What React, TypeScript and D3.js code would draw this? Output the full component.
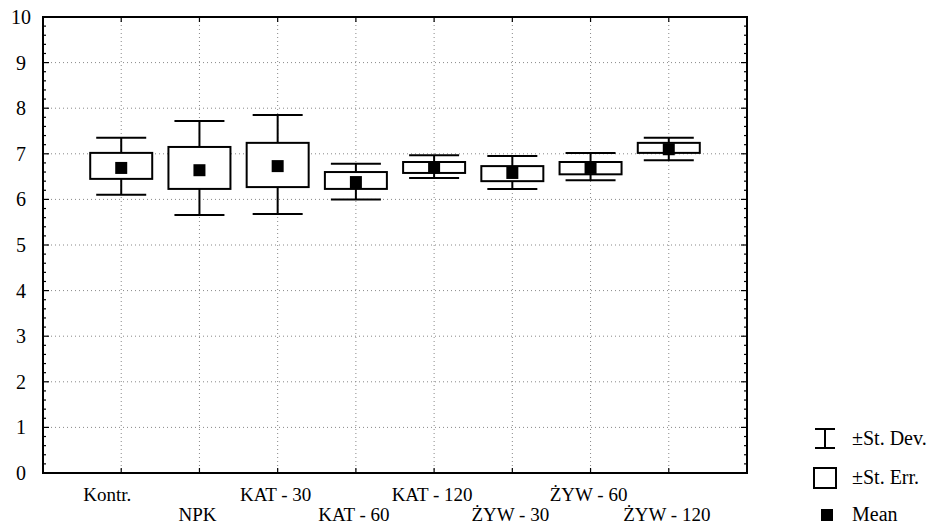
import React, { useEffect, useRef } from 'react'
import { select, scaleLinear, range } from 'd3'

const categories = ['Kontr.', 'NPK', 'KAT - 30', 'KAT - 60', 'KAT - 120', 'ŻYW - 30', 'ŻYW - 60', 'ŻYW - 120']
const means = [6.69, 6.64, 6.73, 6.38, 6.7, 6.58, 6.69, 7.1]
const seLow = [6.45, 6.23, 6.27, 6.23, 6.58, 6.4, 6.55, 7.02]
const seHigh = [7.02, 7.15, 7.24, 6.6, 6.82, 6.73, 6.82, 7.24]
const sdLow = [6.1, 5.66, 5.68, 6.0, 6.47, 6.23, 6.42, 6.86]
const sdHigh = [7.35, 7.72, 7.85, 6.78, 6.97, 6.95, 7.02, 7.35]
const yTicks = [0, 1, 2, 3, 4, 5, 6, 7, 8, 9, 10]

const W = 940
const H = 527
const FONT = '"Liberation Serif", "Times New Roman", serif'

export default function App() {
  const svgRef = useRef(null)

  useEffect(() => {
    const svg = select(svgRef.current)
    svg.selectAll('*').remove()

    const left = 43, right = 747, top = 17, bottom = 473
    const x = scaleLinear().domain([0, categories.length + 1]).range([left, right])
    const y = scaleLinear().domain([0, 10]).range([bottom, top])

    const rows = categories.map((c, i) => ({
      c, i, mean: means[i], seLow: seLow[i], seHigh: seHigh[i], sdLow: sdLow[i], sdHigh: sdHigh[i]
    }))

    // dotted grid
    const grid = svg.append('g')
      .attr('stroke', '#888')
      .attr('stroke-width', 1)
      .attr('stroke-dasharray', '1,3')
    grid.selectAll('line.h')
      .data(yTicks.slice(1, -1))
      .join('line')
      .attr('x1', left).attr('x2', right)
      .attr('y1', d => y(d)).attr('y2', d => y(d))
    grid.selectAll('line.v')
      .data(rows)
      .join('line')
      .attr('x1', d => x(d.i + 1)).attr('x2', d => x(d.i + 1))
      .attr('y1', top).attr('y2', bottom)

    // ticks
    const minor = range(0, 10.001, 0.2)
    const ticks = svg.append('g').attr('stroke', '#000').attr('stroke-width', 1.2)
    ticks.selectAll('line.l')
      .data(minor)
      .join('line')
      .attr('x1', left).attr('x2', (d, i) => left + (i % 5 === 0 ? 6 : 3))
      .attr('y1', d => y(d)).attr('y2', d => y(d))
    ticks.selectAll('line.r')
      .data(minor)
      .join('line')
      .attr('x1', right).attr('x2', (d, i) => right - (i % 5 === 0 ? 6 : 3))
      .attr('y1', d => y(d)).attr('y2', d => y(d))
    ticks.selectAll('line.b')
      .data(rows)
      .join('line')
      .attr('x1', d => x(d.i + 1)).attr('x2', d => x(d.i + 1))
      .attr('y1', bottom).attr('y2', bottom - 5)
    ticks.selectAll('line.t')
      .data(rows)
      .join('line')
      .attr('x1', d => x(d.i + 1)).attr('x2', d => x(d.i + 1))
      .attr('y1', top).attr('y2', top + 5)

    // frame
    svg.append('rect')
      .attr('x', left).attr('y', top)
      .attr('width', right - left).attr('height', bottom - top)
      .attr('fill', 'none').attr('stroke', '#000').attr('stroke-width', 2)

    // y labels
    svg.append('g')
      .selectAll('text')
      .data(yTicks)
      .join('text')
      .attr('x', 21).attr('y', d => y(d))
      .attr('dy', '0.35em')
      .attr('text-anchor', 'middle')
      .attr('font-family', FONT).attr('font-size', 20)
      .text(d => d)

    // x labels staggered (first one sits a bit left in the original)
    svg.append('g')
      .selectAll('text')
      .data(rows)
      .join('text')
      .attr('x', d => x(d.i + 1))
      .attr('dx', d => (d.i === 0 ? -14 : -2))
      .attr('y', d => (d.i % 2 === 0 ? 501 : 521))
      .attr('text-anchor', 'middle')
      .attr('font-family', FONT).attr('font-size', 19)
      .text(d => d.c)

    const boxW = 62, capW = 50, meanS = 12
    const g = svg.append('g').attr('stroke', '#000').attr('stroke-width', 2)
    const box = g.selectAll('g.box').data(rows).join('g')
    box.append('line')
      .attr('x1', d => x(d.i + 1)).attr('x2', d => x(d.i + 1))
      .attr('y1', d => y(d.sdHigh)).attr('y2', d => y(d.seHigh))
    box.append('line')
      .attr('x1', d => x(d.i + 1)).attr('x2', d => x(d.i + 1))
      .attr('y1', d => y(d.seLow)).attr('y2', d => y(d.sdLow))
    box.append('line')
      .attr('x1', d => x(d.i + 1) - capW / 2).attr('x2', d => x(d.i + 1) + capW / 2)
      .attr('y1', d => y(d.sdHigh)).attr('y2', d => y(d.sdHigh))
    box.append('line')
      .attr('x1', d => x(d.i + 1) - capW / 2).attr('x2', d => x(d.i + 1) + capW / 2)
      .attr('y1', d => y(d.sdLow)).attr('y2', d => y(d.sdLow))
    box.append('rect')
      .attr('x', d => x(d.i + 1) - boxW / 2)
      .attr('y', d => y(d.seHigh))
      .attr('width', boxW)
      .attr('height', d => y(d.seLow) - y(d.seHigh))
      .attr('fill', '#fff')
    box.append('rect')
      .attr('x', d => x(d.i + 1) - meanS / 2)
      .attr('y', d => y(d.mean) - meanS / 2)
      .attr('width', meanS).attr('height', meanS)
      .attr('fill', '#000').attr('stroke', 'none')

    // legend
    const lg = svg.append('g').attr('font-family', FONT).attr('font-size', 20)
    const ix = 825
    lg.append('path')
      .attr('d', `M${ix - 10},${429}H${ix + 10}M${ix},${429}V${448}M${ix - 10},${448}H${ix + 10}`)
      .attr('stroke', '#000').attr('stroke-width', 2).attr('fill', 'none')
    lg.append('text').attr('x', 852).attr('y', 445).text('±St. Dev.')
    lg.append('rect')
      .attr('x', 814).attr('y', 468).attr('width', 22).attr('height', 20)
      .attr('fill', '#fff').attr('stroke', '#000').attr('stroke-width', 2)
    lg.append('text').attr('x', 852).attr('y', 484).text('±St. Err.')
    lg.append('rect')
      .attr('x', 821).attr('y', 509).attr('width', 12).attr('height', 12)
      .attr('fill', '#000')
    lg.append('text').attr('x', 852).attr('y', 521).text('Mean')
  }, [])

  return (
    <div>
      <svg ref={svgRef} width={W} height={H}
        style={{ position: 'absolute', left: 0, top: 0, background: '#fff' }} />
    </div>
  )
}
